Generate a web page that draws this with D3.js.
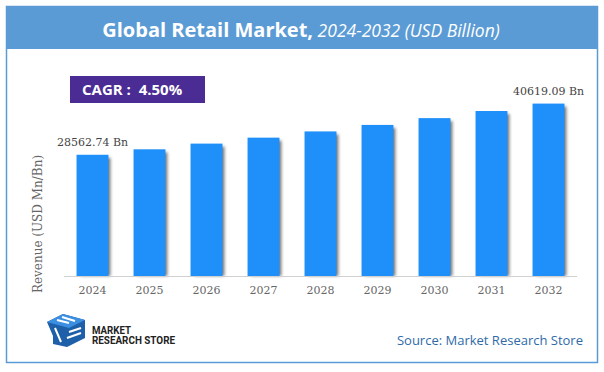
<!DOCTYPE html>
<html>
<head>
<meta charset="utf-8">
<script src="https://cdn.jsdelivr.net/npm/d3@7"></script>
<style>
  body { margin: 0; background: #fff; }
  svg { display: block; }
</style>
</head>
<body>
<div class="chart"></div>
<script>
const years = ["2024", "2025", "2026", "2027", "2028", "2029", "2030", "2031", "2032"];
const revenue = [28562.74, 29848.06, 31191.22, 32594.83, 34061.60, 35594.37, 37196.12, 38869.94, 40619.09];
const labelled = ["2024", "2032"];
const cagr = "4.50%";

const W = 604, H = 372;
const svg = d3.select(".chart").append("svg")
  .attr("width", W)
  .attr("height", H)

const defs = svg.append("defs")
const grad = defs.append("linearGradient").attr("id", "dash")
grad.append("stop").attr("offset", "0%").attr("stop-color", "#ef7d2b")
grad.append("stop").attr("offset", "100%").attr("stop-color", "#fde3cf")

const blur = defs.append("filter").attr("id", "shadow")
  .attr("x", "-50%").attr("width", "200%")
blur.append("feGaussianBlur").attr("stdDeviation", 1.6)

// frame + header
svg.append("rect")
  .attr("x", 6.5).attr("y", 6.5)
  .attr("width", 591).attr("height", 356)
  .attr("fill", "white")
  .attr("stroke", "#5b9bd5")
  .attr("stroke-width", 1.5)

svg.append("rect")
  .attr("x", 6).attr("y", 6)
  .attr("width", 592).attr("height", 43)
  .attr("fill", "#5b9bd5")

const title = svg.append("text")
  .attr("x", 301).attr("y", 37)
  .attr("text-anchor", "middle")
  .attr("fill", "white")
  .attr("font-family", "'Open Sans', sans-serif")
title.append("tspan")
  .attr("font-size", 20).attr("font-weight", "bold")
  .text("Global Retail Market,")
title.append("tspan")
  .attr("font-size", 17.5).attr("font-style", "italic")
  .text(" 2024-2032 (USD Billion)")

svg.append("line")
  .attr("x1", 41).attr("x2", 556)
  .attr("y1", 59.5).attr("y2", 59.5)
  .attr("stroke", "url(#dash)")
  .attr("stroke-width", 1.2)
  .attr("stroke-dasharray", "4,3")

// CAGR box
svg.append("rect")
  .attr("x", 70).attr("y", 76)
  .attr("width", 135).attr("height", 27)
  .attr("fill", "#4a2c94")
svg.append("text")
  .attr("x", 82).attr("y", 95)
  .attr("fill", "white")
  .attr("font-family", "'Open Sans', sans-serif")
  .attr("font-weight", "bold")
  .attr("font-size", 15)
  .attr("xml:space", "preserve")
  .text("CAGR :  " + cagr)

// scales
const x = d3.scaleBand()
  .domain(years)
  .range([64, 577])
  .paddingInner(0.44)
  .paddingOuter(0.22)

const y = d3.scaleLinear()
  .domain([0, 45000])
  .range([276, 85])

const bars = svg.append("g")
  .selectAll("g")
  .data(years)
  .join("g")

bars.append("rect")
  .attr("x", d => x(d) + 4)
  .attr("y", (d, i) => y(revenue[i]) + 3)
  .attr("width", x.bandwidth() - 2)
  .attr("height", (d, i) => y(0) - y(revenue[i]) - 3)
  .attr("fill", "#7a7a7a")
  .attr("filter", "url(#shadow)")

bars.append("rect")
  .attr("x", d => x(d))
  .attr("y", (d, i) => y(revenue[i]))
  .attr("width", x.bandwidth())
  .attr("height", (d, i) => y(0) - y(revenue[i]))
  .attr("fill", "#1f8ffa")

bars.filter(d => labelled.includes(d))
  .append("text")
  .attr("x", d => x(d) + x.bandwidth() / 2)
  .attr("y", d => y(revenue[years.indexOf(d)]) - 8.5)
  .attr("text-anchor", "middle")
  .attr("font-family", "'DejaVu Serif', serif")
  .attr("font-size", 11)
  .attr("fill", "#444")
  .text(d => d3.format(".2f")(revenue[years.indexOf(d)]) + " Bn")

// axis
const xAxis = d3.axisBottom(x).tickSize(0).tickPadding(10)
const xg = svg.append("g")
  .attr("transform", "translate(0,276)")
  .call(xAxis)
xg.select(".domain").attr("stroke", "#d0d0d0").attr("d", "M64,0.5H577")
xg.selectAll("text")
  .attr("font-family", "'DejaVu Serif', serif")
  .attr("font-size", 11)
  .attr("fill", "#666")

svg.append("text")
  .attr("transform", "translate(42,224) rotate(-90)")
  .attr("text-anchor", "middle")
  .attr("font-family", "'DejaVu Serif', serif")
  .attr("font-size", 12)
  .attr("fill", "#666")
  .text("Revenue (USD Mn/Bn)")

// logo
const logo = svg.append("g").attr("transform", "translate(47,314)")
logo.append("path")
  .attr("d", "M0,8 L16,0 L38,6 L38,24 L20,33 L6,30 L6,22 Z")
  .attr("fill", "#1d5fa8")
logo.append("path")
  .attr("d", "M0,8 L16,0 L38,6 L22,14 Z")
  .attr("fill", "#3b8ee0")
logo.append("path")
  .attr("d", "M10,6 L22,9 M15,3 L28,7 M22,18 L34,14 M20,24 L34,19 M8,14 L14,28")
  .attr("stroke", "white").attr("stroke-width", 2).attr("fill", "none")

const logoText = svg.append("g")
  .attr("font-family", "'Roboto', sans-serif")
  .attr("font-weight", "bold")
  .attr("font-size", 10)
  .attr("fill", "#222")
logoText.append("text").attr("x", 92).attr("y", 334)
  .attr("textLength", 39).attr("lengthAdjust", "spacingAndGlyphs")
  .text("MARKET")
logoText.append("text").attr("x", 92).attr("y", 344)
  .attr("textLength", 83).attr("lengthAdjust", "spacingAndGlyphs")
  .text("RESEARCH STORE")

svg.append("text")
  .attr("x", 583).attr("y", 345)
  .attr("text-anchor", "end")
  .attr("font-family", "'Open Sans', sans-serif")
  .attr("font-size", 13)
  .attr("fill", "#2e6aa8")
  .text("Source: Market Research Store")
</script>
</body>
</html>
